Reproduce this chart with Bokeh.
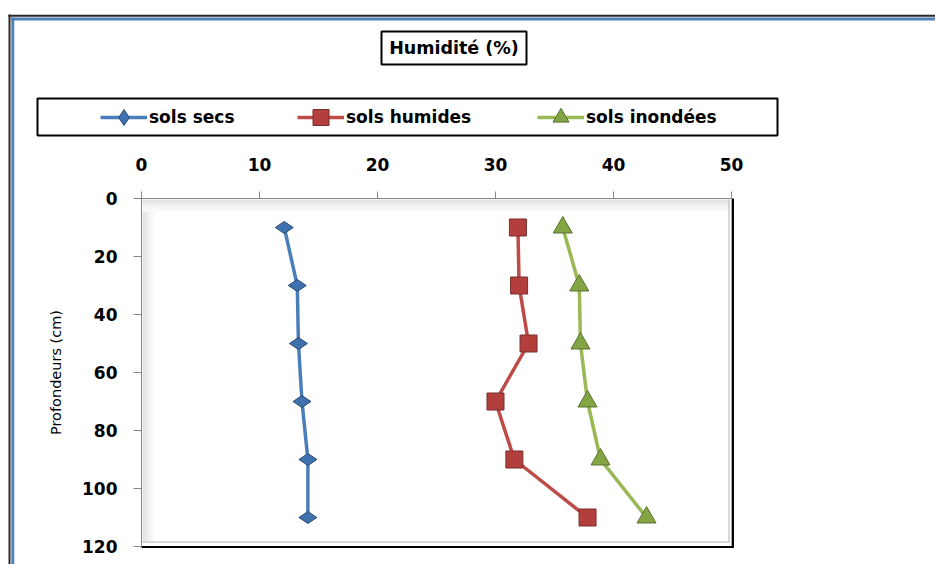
import numpy as np
from bokeh.plotting import figure
from bokeh.models import (Range1d, FixedTicker, Legend, LegendItem, LinearAxis, Label)
from bokeh.embed import file_html
from bokeh.resources import INLINE

# ---- data -------------------------------------------------------------
depth = [10, 30, 50, 70, 90, 110]
sols_secs = [12.1, 13.2, 13.3, 13.6, 14.1, 14.1]
sols_humides = [31.9, 32.0, 32.8, 30.0, 31.6, 37.8]
sols_inondees = [35.7, 37.1, 37.2, 37.8, 38.9, 42.8]
series_names = ["sols secs", "sols humides", "sols inondées"]
x_ticks = [0, 10, 20, 30, 40, 50]
y_ticks = [0, 20, 40, 60, 80, 100, 120]
title_text = "Humidité (%)"
y_label = "Profondeurs (cm)"

# ---- layout (pixels) --------------------------------------------------
W, H = 935, 564
PL, PR, PT, PB = 141, 731, 198, 546          # plot area in the window
X0, X1, Y0, Y1 = 0, 50, 0, 120                 # data extent of the plot area
FONT = "DejaVu Sans"

sx = (PR - PL) / (X1 - X0)
sy = (PB - PT) / (Y1 - Y0)
x_range = Range1d(X0 - PL / sx, X1 + (W - PR) / sx)
y_range = Range1d(Y1 + (H - PB) / sy, Y0 - PT / sy)     # depth grows downwards

p = figure(width=W, height=H, x_range=x_range, y_range=y_range,
           x_axis_location=None, y_axis_location=None,
           output_backend="svg", toolbar_location=None,
           min_border_left=0, min_border_right=0, min_border_top=0, min_border_bottom=0)
p.extra_x_ranges = {"px": Range1d(0, W)}
p.extra_y_ranges = {"px": Range1d(H, 0)}
p.grid.visible = False
p.background_fill_color = "white"
p.border_fill_color = "white"
p.outline_line_color = None
PX = dict(x_range_name="px", y_range_name="px")

# ---- outer chart border ----------------------------------------------------
p.segment(x0=[8, 9], y0=[15.2, 14], x1=[W, 9], y1=[15.2, H], line_color="#262626",
          line_width=2, **PX)
p.segment(x0=[10.5, 12.3], y0=[18.4, 17], x1=[W, 12.3], y1=[18.4, H], line_color="#4F81BD",
          line_width=3, **PX)

# ---- plot area frame with bevel ------------------------------------------------
for i, a in enumerate([0.10, 0.07, 0.045, 0.025]):
    p.quad(left=PL + 1, right=PR - 2, top=PT + 1 + 3 * i, bottom=PT + 4 + 3 * i,
           fill_color="black", fill_alpha=a, line_alpha=0, **PX)
    p.quad(left=PL + 1 + 3 * i, right=PL + 4 + 3 * i, top=PT + 13, bottom=PB - 5,
           fill_color="black", fill_alpha=a, line_alpha=0, **PX)
p.segment(x0=[PR - 2.5, PL + 1], y0=[PT + 1, PB - 4.5], x1=[PR - 2.5, PR - 2],
          y1=[PB - 4.5, PB - 4.5], line_color="#B4B4B4", line_width=1, **PX)
p.quad(left=X0, right=X1, top=Y0, bottom=Y1, fill_alpha=0, line_color="#A6A6A6", line_width=1)
p.segment(x0=[PR + 1.5, PL], y0=[PT, PB + 0.5], x1=[PR + 1.5, PR + 2.5], y1=[PB + 1.5, PB + 0.5],
          line_color="black", line_width=2, **PX)

# ---- series -------------------------------------------------------------
colors_line = ["#4A7EBB", "#BE4B48", "#98B954"]
colors_fill = ["#3F71AE", "#B23F3C", "#84A544"]
colors_edge = ["#2C4D74", "#7A2E2C", "#5A7030"]
markers = ["diamond", "square", "triangle"]
angles = [np.pi / 2, 0, 0]
sizes = [18, 17, 19]
values = [sols_secs, sols_humides, sols_inondees]

renderers = []
for vals, lc, fc, ec, mk, ang, sz in zip(values, colors_line, colors_fill, colors_edge,
                                         markers, angles, sizes):
    lr = p.line(vals, depth, line_color=lc, line_width=3.5)
    sr = p.scatter(vals, depth, marker=mk, angle=ang, size=sz, fill_color=fc,
                   line_color=ec, line_width=1)
    renderers.append((lr, sr))

# ---- axes (fixed on the plot-area edges) --------------------------------------
xaxis = LinearAxis(fixed_location=Y0, bounds=(X0, X1),
                   ticker=FixedTicker(ticks=x_ticks, minor_ticks=[]))
p.add_layout(xaxis, "above")
yaxis = LinearAxis(fixed_location=X0, bounds=(Y0, Y1),
                   ticker=FixedTicker(ticks=y_ticks, minor_ticks=[]))
p.add_layout(yaxis, "left")
for ax in (xaxis, yaxis):
    ax.major_label_text_font = FONT
    ax.major_label_text_font_style = "bold"
    ax.major_label_text_font_size = "17px"
    ax.major_label_text_color = "black"
    ax.axis_line_color = "#868686"
    ax.major_tick_line_color = "#868686"
    ax.major_tick_in = 0
    ax.minor_tick_line_color = None
xaxis.major_tick_out = 7
xaxis.major_label_standoff = 21
yaxis.major_tick_out = 8
yaxis.major_label_standoff = 16
yaxis.axis_label = y_label
yaxis.axis_label_text_font = FONT
yaxis.axis_label_text_font_style = "normal"
yaxis.axis_label_text_font_size = "14.5px"
yaxis.axis_label_text_color = "black"
yaxis.axis_label_standoff = 15

# ---- legend -------------------------------------------------------------------
legend_x = [100, 297, 537]
row_center = 117
gh = 40
for name, (lr, sr), lx in zip(series_names, renderers, legend_x):
    leg = Legend(items=[LegendItem(label=name, renderers=[lr, sr])],
                 location=(lx, H - (row_center + gh / 2)),
                 orientation="horizontal", padding=0, margin=0, spacing=0,
                 glyph_width=47, glyph_height=gh, label_height=gh,
                 label_standoff=2, border_line_alpha=0, background_fill_alpha=0,
                 label_text_font=FONT, label_text_font_style="bold",
                 label_text_font_size="17px", label_text_color="black")
    p.add_layout(leg)
p.quad(left=37, right=777, top=98, bottom=135, fill_alpha=0, line_color="black",
       line_width=2, **PX)

# ---- title -----------------------------------------------------------------
p.quad(left=381, right=526, top=31, bottom=64, fill_color="white", line_color="black",
       line_width=2, **PX)
p.add_layout(Label(x=453.5, y=47.5, text=title_text, text_align="center",
                   text_baseline="middle", text_font=FONT, text_font_style="bold",
                   text_font_size="17.5px", text_color="black", **PX))

open("out.html", "w").write(file_html(p, INLINE))
